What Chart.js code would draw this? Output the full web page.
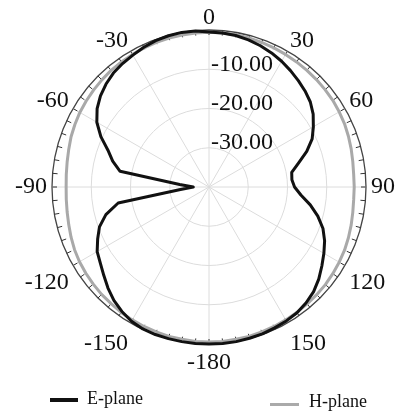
<!DOCTYPE html>
<html><head><meta charset="utf-8">
<script src="https://cdn.jsdelivr.net/npm/chart.js@4/dist/chart.umd.min.js"></script>
<style>
html,body{margin:0;padding:0;background:#fff;}
#wrap{position:relative;width:401px;height:413px;overflow:hidden;}
#c{position:absolute;left:0;top:0;}
.lg{position:absolute;font-family:'Liberation Serif',serif;font-size:18px;color:#111;line-height:18px;white-space:nowrap;}
.sw{position:absolute;}
</style></head><body>
<div id="wrap"><canvas id="c" width="401" height="413"></canvas>
<div class="sw" style="left:50px;top:398px;width:28px;height:4px;background:#111"></div>
<div class="lg" style="left:87px;top:389px">E-plane</div>
<div class="sw" style="left:270px;top:403px;width:29px;height:3px;background:#aaa"></div>
<div class="lg" style="left:309px;top:392px">H-plane</div>
</div>
<script>
// Angle categories (degrees), clockwise from top, every 5 degrees
const angles = [0,5,10,15,20,25,30,35,40,45,50,55,60,65,70,75,80,85,90,95,100,105,110,115,120,125,130,135,140,145,150,155,160,165,170,175,
  -180,-175,-170,-165,-160,-155,-150,-145,-140,-135,-130,-125,-120,-115,-110,-105,-100,-95,-90,-85,-80,-75,-70,-65,-60,-55,-50,-45,-40,-35,-30,-25,-20,-15,-10,-5];

// E-plane gain (dB)
const ePlane = [-0.5,-0.6,-0.8,-1.2,-1.7,-2.3,-3.0,-3.8,-4.6,-5.4,-6.3,-7.6,-9.3,-11.0,-13.5,-16.4,-18.6,-18.8,-18.2,-16.5,-13.8,-11.3,-9.1,-7.5,-6.2,-4.9,-3.5,-2.3,-1.5,-0.9,-0.6,-0.4,-0.2,-0.1,0,0,
  0,0,0,0,0,-0.1,-0.5,-1.3,-2.3,-3.6,-5.0,-6.2,-7.1,-8.7,-10.3,-12.8,-16.5,-32.7,-36.0,-32.5,-17.0,-14.6,-12.6,-9.6,-7.0,-5.2,-3.9,-2.9,-2.1,-1.6,-1.2,-0.7,-0.3,-0.1,0,-0.1];

// H-plane gain (dB)
const hPlane = [-0.6,-0.6,-0.6,-0.7,-0.8,-0.9,-1.0,-1.1,-1.2,-1.3,-1.4,-1.5,-1.7,-1.9,-2.2,-2.5,-2.8,-3.0,-3.0,-3.0,-2.8,-2.5,-2.2,-1.9,-1.7,-1.5,-1.3,-1.2,-1.1,-1.0,-0.9,-0.8,-0.7,-0.6,-0.6,-0.5,
  -0.5,-0.5,-0.6,-0.6,-0.7,-0.8,-0.9,-1.0,-1.2,-1.3,-1.5,-1.7,-1.9,-2.2,-2.6,-3.0,-3.3,-3.5,-3.6,-3.5,-3.3,-3.0,-2.6,-2.3,-2.0,-1.8,-1.6,-1.4,-1.2,-1.1,-1.0,-0.9,-0.8,-0.7,-0.7,-0.6];

// Radial tick labels (dB)
const radialTicks = [-10,-20,-30];
const rMin = -40, rMax = 0, rStep = 10;

function lineHeightFor(i){
  const m = {0:0.625,6:0.52,66:0.52,12:0.46,60:0.46,18:1,54:1,24:1.21,48:1.21,30:1.35,42:1.35,36:1.125};
  return m[i] !== undefined ? m[i] : 1;
}

const decor = {
  id:'decor',
  beforeDatasetsDraw(chart){
    const s = chart.scales.r, ctx = chart.ctx;
    const R = s.getDistanceFromCenterForValue(rMax);
    ctx.save();
    ctx.strokeStyle = '#333'; ctx.lineWidth = 1;
    for (let i = 0; i < angles.length; i++){
      const p1 = s.getPointPosition(i, R);
      const p2 = s.getPointPosition(i, R - 5);
      ctx.beginPath(); ctx.moveTo(p1.x, p1.y); ctx.lineTo(p2.x, p2.y); ctx.stroke();
    }
    ctx.font = '24px "Liberation Serif"';
    ctx.fillStyle = '#111'; ctx.textAlign = 'left'; ctx.textBaseline = 'middle';
    radialTicks.forEach(v => {
      const d = s.getDistanceFromCenterForValue(v);
      ctx.fillText(v.toFixed(2), s.xCenter + 2, s.yCenter - d - 5);
    });
    ctx.restore();
  }
};

new Chart(document.getElementById('c'), {
  type:'radar',
  data:{ labels: angles, datasets:[
    {label:'E-plane', data:ePlane, borderColor:'#111', borderWidth:3, pointRadius:0, fill:false, tension:0},
    {label:'H-plane', data:hPlane, borderColor:'#a9a9a9', borderWidth:3, pointRadius:0, fill:false, tension:0}
  ]},
  options:{
    responsive:false, animation:false,
    layout:{padding:{left:10,right:0,top:4,bottom:31}},
    plugins:{legend:{display:false}, tooltip:{enabled:false}},
    elements:{line:{borderJoinStyle:'round'}},
    scales:{ r:{
      min:rMin, max:rMax,
      ticks:{display:false, stepSize:rStep},
      grid:{circular:true, color: c => (c.tick && c.tick.value === rMax) ? '#444' : '#dcdcdc', lineWidth: c => (c.tick && c.tick.value === rMax) ? 1.3 : 1},
      angleLines:{color:'#dcdcdc', lineWidth: c => c.index % 6 === 0 ? 1 : 0},
      pointLabels:{
        padding:5, color:'#111',
        font: c => ({family:'"Liberation Serif", serif', size: c.index % 6 === 0 ? 24 : 1, lineHeight: lineHeightFor(c.index)}),
        callback: (v, i) => i % 6 === 0 ? String(v) : ''
      }
    }}
  },
  plugins:[decor]
});
</script>
</body></html>
